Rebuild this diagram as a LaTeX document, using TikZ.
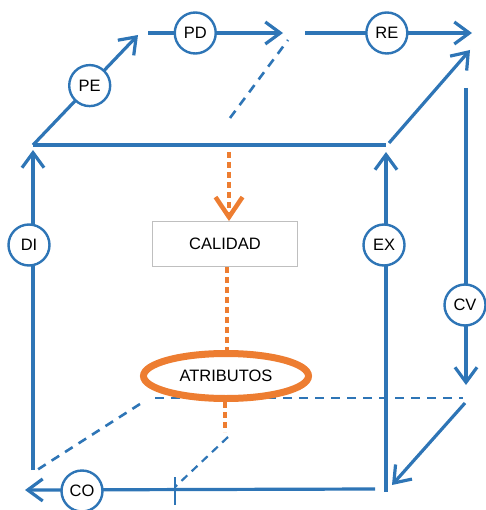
\documentclass[tikz,border=0pt]{standalone}
\usepackage{fontspec}
\setmainfont{Liberation Sans}
\usetikzlibrary{arrows.meta,shapes.geometric}
\definecolor{cubeblue}{RGB}{46,117,182}
\definecolor{accent}{RGB}{237,125,49}

\begin{document}
\begin{tikzpicture}[x=1pt,y=-1pt,
  edge/.style={draw=cubeblue,line width=3.2pt},
  arr/.style={edge,-{Straight Barb[length=15pt,width=22pt,line width=3.2pt]}},
  hidden/.style={draw=cubeblue,line width=2.6pt,dash pattern=on 9pt off 7pt},
  stage/.style={circle,draw=cubeblue,line width=2.4pt,fill=white,minimum size=41pt,inner sep=0pt,font=\fontsize{16.5}{18}\selectfont},
  link/.style={draw=accent,line width=4pt,dash pattern=on 6pt off 4pt},
  linkarr/.style={link,-{Straight Barb[length=20pt,width=27pt,line width=4.5pt]}}
]
\useasboundingbox (0,0) rectangle (485,510);

% corners and free ends of the cube edges
\coordinate (tfl) at (33,145);
\coordinate (tfr) at (386,145);
\coordinate (tblTip) at (138,35);
\coordinate (pdS) at (148,33);
\coordinate (pdE) at (283,33);
\coordinate (reS) at (305,33);
\coordinate (reE) at (472,33);
\coordinate (trS) at (389,143);
\coordinate (trE) at (470,50);
\coordinate (hdA) at (230,118);
\coordinate (hdB) at (288,40);
\coordinate (lvS) at (33,470);
\coordinate (lvE) at (33,150);
\coordinate (mvS) at (386,492);
\coordinate (mvE) at (386,152);
\coordinate (rvS) at (466,88);
\coordinate (rvE) at (466,385);
\coordinate (bhA) at (155,398);
\coordinate (bhB) at (463,398);
\coordinate (bdA) at (140,404);
\coordinate (bdB) at (37,470);
\coordinate (bmA) at (228,437);
\coordinate (bmB) at (175,487);
\coordinate (bfS) at (375,489);
\coordinate (bfE) at (25,490);
\coordinate (tkA) at (175,477);
\coordinate (tkB) at (175,505);
\coordinate (brS) at (465,403);
\coordinate (brE) at (392,485);

% top face
\draw[edge] (tfl) -- (tfr);
\draw[arr] (tfl) -- (tblTip) node[stage,pos=0.54] (pe) {PE};
\draw[arr] (pdS) -- (pdE) node[stage,pos=0.35] (pd) {PD};
\draw[arr] (reS) -- (reE) node[stage,pos=0.49] (re) {RE};
\draw[arr] (trS) -- (trE);
\draw[hidden] (hdA) -- (hdB);

% vertical edges
\draw[arr] (lvS) -- (lvE);
\node[stage] (di) at (29,245) {DI};
\draw[arr] (mvS) -- (mvE);
\node[stage] (ex) at (384,245) {EX};
\draw[arr] (rvS) -- (rvE);
\node[stage] (cv) at (465,305) {CV};

% bottom face
\draw[hidden] (bhA) -- (bhB);
\draw[hidden] (bdA) -- (bdB);
\draw[hidden,line width=2.2pt,dash pattern=on 8pt off 6pt] (bmA) -- (bmB);
\draw[arr] (bfS) -- (bfE);
\node[stage] (co) at (82,491) {CO};
\draw[edge,line width=2.4pt] (tkA) -- (tkB);
\draw[arr] (brS) -- (brE);

% quality axis
\node[draw=black!25,line width=0.8pt,fill=white,minimum width=145pt,minimum height=45pt,inner sep=0pt,font=\fontsize{16.5}{18}\selectfont] (cal) at (225,244) {CALIDAD};
\node[ellipse,draw=accent,line width=7pt,fill=white,minimum width=165pt,minimum height=45pt,inner sep=0pt,font=\fontsize{16.5}{18}\selectfont] (atr) at (226,376) {ATRIBUTOS};
\coordinate (qTop) at (229,152);
\coordinate (qLow) at (225,432);
\draw[linkarr] (qTop) -- (cal.north -| qTop);
\draw[link] (cal.south -| 227,0) -- (atr.north -| 227,0);
\draw[link] (atr.south -| qLow) -- (qLow);
\end{tikzpicture}
\end{document}
